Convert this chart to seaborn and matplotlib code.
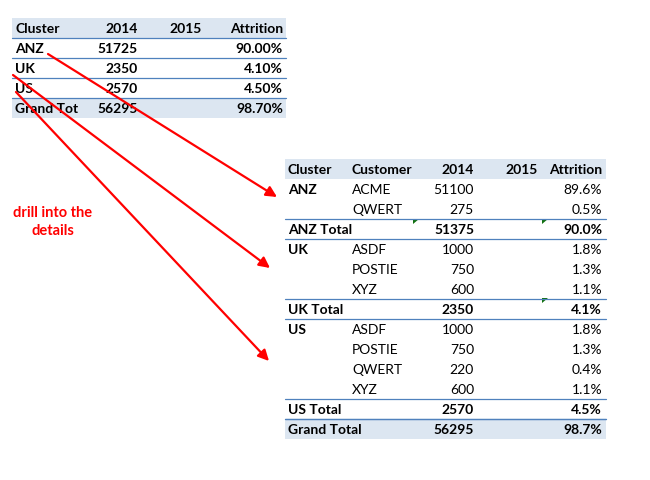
import matplotlib
matplotlib.use("Agg")
import matplotlib.pyplot as plt
import seaborn as sns
from matplotlib.patches import Polygon, Rectangle

# ---------- data ----------
summary_header = ["Cluster", "2014", "2015", "Attrition"]
summary_clusters = ["ANZ", "UK", "US", "Grand Tot"]
summary_2014 = ["51725", "2350", "2570", "56295"]
summary_2015 = ["", "", "", ""]
summary_attrition = ["90.00%", "4.10%", "4.50%", "98.70%"]

detail_header = ["Cluster", "Customer", "2014", "2015", "Attrition"]
detail_cluster = ["ANZ", "", "ANZ Total", "UK", "", "", "UK Total",
                  "US", "", "", "", "US Total", "Grand Total"]
detail_customer = ["ACME", "QWERT", "", "ASDF", "POSTIE", "XYZ", "",
                   "ASDF", "POSTIE", "QWERT", "XYZ", "", ""]
detail_2014 = ["51100", "275", "51375", "1000", "750", "600", "2350",
               "1000", "750", "220", "600", "2570", "56295"]
detail_attrition = ["89.6%", "0.5%", "90.0%", "1.8%", "1.3%", "1.1%", "4.1%",
                    "1.8%", "1.3%", "0.4%", "1.1%", "4.5%", "98.7%"]
detail_is_total = [False, False, True, False, False, False, True,
                   False, False, False, False, True, True]

note_text = "drill into the\ndetails"

# ---------- style ----------
sns.set_theme(style="white")
plt.rcParams['font.family'] = ['Lato', 'DejaVu Sans']
BAND = "#dce6f1"
LINE = "#4f81bd"
TXT = "#000000"
FS = 10

fig = plt.figure(figsize=(6.5, 4.8), dpi=100)
ax = fig.add_axes([0, 0, 1, 1])
ax.set_xlim(0, 650)
ax.set_ylim(480, 0)
ax.axis("off")

# ---------- summary table ----------
t1_left, t1_right, t1_top, rh = 12, 286, 18, 20
ax.add_patch(Rectangle((t1_left, t1_top), t1_right - t1_left, rh, color=BAND, lw=0))
ax.add_patch(Rectangle((t1_left, t1_top + 4 * rh), t1_right - t1_left, rh, color=BAND, lw=0))
for k in range(1, 5):
    ax.plot([t1_left, t1_right], [t1_top + k * rh] * 2, color=LINE, lw=0.9)

cols1 = [(15, "left"), (138, "right"), (202, "right"), (283, "right")]
yc = t1_top + rh / 2 + 1
for (x, ha), h in zip(cols1, summary_header):
    ax.text(x, yc, h, ha=ha, va="center", fontsize=FS, fontweight="bold", color=TXT)
for i in range(len(summary_clusters)):
    y = t1_top + (i + 1) * rh + rh / 2 + 1
    vals = [summary_clusters[i], summary_2014[i], summary_2015[i], summary_attrition[i]]
    for (x, ha), v in zip(cols1, vals):
        ax.text(x, y, v, ha=ha, va="center", fontsize=FS, fontweight="bold", color=TXT)

# ---------- detail table ----------
t2_left, t2_right, t2_top = 285, 606, 159
ax.add_patch(Rectangle((t2_left, t2_top), t2_right - t2_left, rh, color=BAND, lw=0))
n = len(detail_cluster)
ax.add_patch(Rectangle((t2_left, t2_top + n * rh), t2_right - t2_left, rh, color=BAND, lw=0))

cols2 = [(288, "left"), (352, "left"), (474, "right"), (538, "right"), (602, "right")]
yc = t2_top + rh / 2 + 1
for (x, ha), h in zip(cols2, detail_header):
    ax.text(x, yc, h, ha=ha, va="center", fontsize=FS, fontweight="bold", color=TXT)

for i in range(n):
    y_top = t2_top + (i + 1) * rh
    y = y_top + rh / 2 + 1
    tot = detail_is_total[i]
    if tot:
        ax.plot([t2_left, t2_right], [y_top] * 2, color=LINE, lw=0.9)
        if i + 1 < n:
            ax.plot([t2_left, t2_right], [y_top + rh] * 2, color=LINE, lw=0.9)
    vals = [detail_cluster[i], detail_customer[i], detail_2014[i], "", detail_attrition[i]]
    for j, ((x, ha), v) in enumerate(zip(cols2, vals)):
        bold = tot or j == 0
        ax.text(x, y, v, ha=ha, va="center", fontsize=FS,
                fontweight="bold" if bold else "normal", color=TXT)

# green error-indicator triangles
for (x, yy) in [(413, 219), (542, 219), (542, 298)]:
    ax.add_patch(Polygon([(x, yy), (x + 6, yy), (x, yy + 5)], closed=True,
                         color="#107010", lw=0))

# ---------- arrows ----------
arrows = [((48, 54), (277, 197)), ((13, 75), (270, 268)), ((16, 92), (269, 361))]
for start, end in arrows:
    ax.annotate("", xy=end, xytext=start,
                arrowprops=dict(arrowstyle="-|>", color="#ff0000", lw=1.6,
                                mutation_scale=16, shrinkA=0, shrinkB=0))

ax.text(53, 222, note_text, ha="center", va="center", multialignment="center",
        fontsize=10.5, fontweight="bold", color="#ff0000", linespacing=1.35)

fig.savefig("out.png", dpi=100)
